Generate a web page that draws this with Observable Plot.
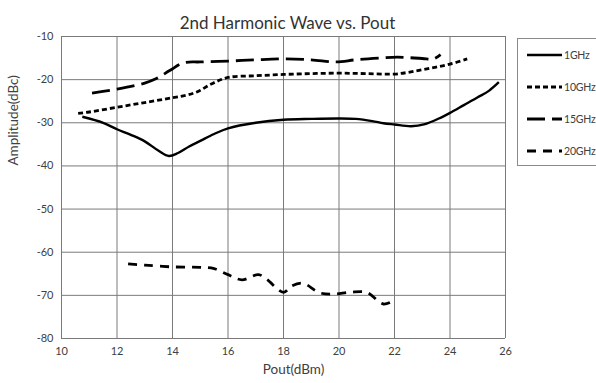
<!DOCTYPE html>
<html><head><meta charset="utf-8">
<script src="https://cdn.jsdelivr.net/npm/d3@7"></script>
<script src="https://cdn.jsdelivr.net/npm/@observablehq/plot@0.6"></script>
<style>
body{margin:0;background:#fff;font-family:Lato,"Open Sans",sans-serif}
#wrap{position:relative;width:596px;height:383px;overflow:hidden}
#legend{position:absolute;left:517px;top:38px;width:100px;height:126px;border:1px solid #8a8a8a;background:#fff}
.item{position:absolute;left:9px;height:14px;display:flex;align-items:center;font-size:10.5px;color:#404040;white-space:nowrap;letter-spacing:-0.2px}
.item svg{margin-right:2px}
</style>
</head><body><div id="wrap"><div id="legend"></div></div>
<script>
const title = "2nd Harmonic Wave vs. Pout";
const xLabel = "Pout(dBm)";
const yLabel = "Amplitude(dBc)";
const xTicks = [10, 12, 14, 16, 18, 20, 22, 24, 26];
const yTicks = [-80, -70, -60, -50, -40, -30, -20, -10];
const seriesNames = ["1GHz", "10GHz", "15GHz", "20GHz"];

const pout1GHz = [10.75, 11.5, 12.0, 12.5, 13.0, 13.5, 13.87, 14.2, 14.6, 15.0, 15.5, 16.0, 17.0, 18.0, 19.0, 20.0, 20.6, 21.2, 21.6, 22.0, 22.6, 23.1, 23.6, 24.0, 24.5, 25.0, 25.4, 25.76];
const amp1GHz  = [-28.6, -30.0, -31.5, -32.8, -34.3, -36.5, -37.7, -37.0, -35.5, -34.2, -32.6, -31.3, -30.0, -29.3, -29.1, -29.0, -29.1, -29.6, -30.1, -30.4, -30.8, -30.3, -29.0, -27.7, -25.9, -24.1, -22.6, -20.6];

const pout10GHz = [10.6, 11.0, 12.0, 13.0, 14.0, 14.5, 14.9, 15.4, 16.0, 17.0, 18.0, 19.0, 20.0, 21.0, 22.0, 22.5, 23.0, 23.5, 24.0, 24.62];
const amp10GHz  = [-27.8, -27.5, -26.4, -25.3, -24.2, -23.6, -22.8, -21.0, -19.5, -19.1, -18.8, -18.6, -18.5, -18.6, -18.7, -18.3, -17.7, -17.1, -16.4, -15.2];

const pout15GHz = [11.1, 12.0, 13.0, 13.4, 13.9, 14.4, 15.0, 16.0, 17.0, 18.0, 19.0, 19.9, 20.6, 21.5, 22.1, 23.0, 23.4, 23.66];
const amp15GHz  = [-23.1, -22.2, -20.8, -19.8, -17.9, -16.1, -15.9, -15.7, -15.4, -15.2, -15.4, -15.9, -15.4, -15.0, -14.8, -15.1, -15.2, -14.2];

const pout20GHz = [12.4, 13.0, 14.0, 15.0, 15.5, 16.0, 16.5, 17.1, 17.4, 18.0, 18.3, 18.7, 19.3, 19.8, 20.4, 21.0, 21.6, 22.05];
const amp20GHz  = [-62.7, -63.0, -63.4, -63.5, -63.8, -65.2, -66.4, -65.2, -66.3, -69.3, -67.8, -67.2, -69.4, -69.7, -69.3, -69.3, -72.0, -70.9];

const styles = [
  {dash: null, width: 2.4},
  {dash: "5,3", width: 2.8},
  {dash: "18,7", width: 2.8},
  {dash: "9,7", width: 2.8}
];

const xs = [pout1GHz, pout10GHz, pout15GHz, pout20GHz];
const ys = [amp1GHz, amp10GHz, amp15GHz, amp20GHz];
const tables = xs.map((x, i) => x.map((v, j) => ({series: seriesNames[i], x: v, y: ys[i][j]})));

const lines = tables.map((t, i) => Plot.line(t, {
  x: "x", y: "y", curve: "catmull-rom", stroke: "black",
  strokeWidth: styles[i].width, strokeDasharray: styles[i].dash || undefined,
  strokeLinecap: "butt"
}));

const chart = Plot.plot({
  width: 596, height: 383,
  marginLeft: 61, marginRight: 91, marginTop: 36, marginBottom: 45,
  style: {fontSize: "11px", fontFamily: "Lato, 'Open Sans', sans-serif", color: "#404040", background: "white"},
  x: {domain: [10, 26], ticks: xTicks, tickSize: 0, tickPadding: 9, label: null, tickFormat: d => String(d)},
  y: {domain: [-80, -10], ticks: yTicks, tickSize: 0, tickPadding: 8, label: null, tickFormat: d => String(d).replace("\u2212", "-")},
  marks: [
    Plot.ruleX(xTicks, {stroke: "#7a7a7a", strokeWidth: 1}),
    Plot.ruleY(yTicks, {stroke: "#7a7a7a", strokeWidth: 1}),
    ...lines,
    Plot.text([title], {frameAnchor: "top", dx: 4, dy: -20, fontSize: 17, fill: "#333"}),
    Plot.text([xLabel], {frameAnchor: "bottom", dx: 10, dy: 35, fontSize: 13.5, fill: "#404040"}),
    Plot.text([yLabel], {frameAnchor: "left", dx: -48, dy: -22, rotate: -90, fontSize: 13.5, fill: "#404040"})
  ]
});
document.getElementById("wrap").prepend(chart);

const legend = document.getElementById("legend");
seriesNames.forEach((name, i) => {
  const item = document.createElement("div");
  item.className = "item";
  item.style.top = (9 + i * 32) + "px";
  const s = styles[i];
  item.innerHTML = `<svg width="35" height="6"><line x1="0" y1="3" x2="35" y2="3" stroke="black" stroke-width="${s.width}" ${s.dash ? `stroke-dasharray="${s.dash}"` : ""}/></svg><span>${name}</span>`;
  legend.appendChild(item);
});
</script>
</body></html>
